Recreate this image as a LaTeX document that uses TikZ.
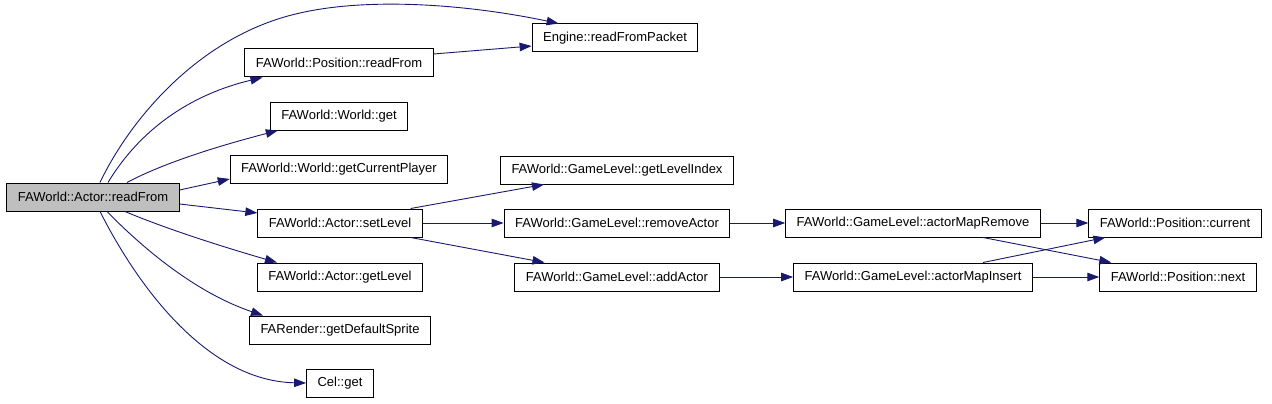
\documentclass[tikz,border=0pt]{standalone}
\usepackage{fontspec}
\setmainfont{Liberation Sans}
\usepackage{tikz}
\usetikzlibrary{arrows.meta}
\definecolor{EdgeBlue}{HTML}{191970}
\definecolor{RootGrey}{HTML}{BFBFBF}

\begin{document}
\begin{tikzpicture}[x=1pt, y=-1pt,
  fn/.style={rectangle, draw=black, line width=1pt, fill=white,
             minimum height=28pt, inner xsep=11pt, inner ysep=0pt,
             font=\fontsize{13}{15}\selectfont},
  call/.style={draw=EdgeBlue, line width=0.9pt,
               -{Triangle[length=12pt, width=8.5pt]}},
]
% one pixel of the graph is one point, y runs downwards
\useasboundingbox (0,0) rectangle (1272,404);

% the caller
\node[fn, fill=RootGrey] (rf) at (93,197) {FAWorld::Actor::readFrom};

% everything it reaches, column by column
\foreach \id/\x/\y/\fname in {
  eng/615/38/Engine::readFromPacket,
  posrf/339/63/FAWorld::Position::readFrom,
  wget/339/116/FAWorld::World::get,
  wcur/339/169/FAWorld::World::getCurrentPlayer,
  setlvl/340/223/FAWorld::Actor::setLevel,
  getlvl/340/277/FAWorld::Actor::getLevel,
  sprite/340/330/FARender::getDefaultSprite,
  cel/340/383/Cel::get,
  lvlidx/617/170/FAWorld::GameLevel::getLevelIndex,
  rmact/617/223/FAWorld::GameLevel::removeActor,
  addact/617/277/FAWorld::GameLevel::addActor,
  mrem/913/223/FAWorld::GameLevel::actorMapRemove,
  mins/913/277/FAWorld::GameLevel::actorMapInsert,
  cur/1175/223/FAWorld::Position::current,
  nxt/1178/277/FAWorld::Position::next
} {
  \node[fn] (\id) at (\x,\y) {\fname};
}

% fan out of readFrom
\coordinate (arc) at (300,13);
\draw[call] ([xshift=7pt]rf.north) .. controls +(30,-63) and +(-100,22) .. (arc)
  .. controls +(70,-16) and +(-90,-19) .. ([xshift=27pt]eng.north west);
\draw[call] ([xshift=15pt]rf.north) .. controls +(32,-53) and +(-72,17) .. ([xshift=18pt]posrf.south west);
\draw[call] ([xshift=34pt]rf.north) .. controls +(43,-23) and +(-42,11) .. ([xshift=8pt]wget.south west);
\draw[call] ([yshift=7pt]rf.east) -- ([yshift=-10pt]wcur.west);
\draw[call] ([yshift=-7pt]rf.east) -- ([yshift=10pt]setlvl.west);
\draw[call] ([xshift=32pt]rf.south) .. controls +(45,19) and +(-45,-13) .. ([xshift=20pt]getlvl.north west);
\draw[call] ([xshift=14pt]rf.south) .. controls +(43,44) and +(-62,-21) .. ([xshift=14pt]sprite.north west);
\draw[call] ([xshift=7pt]rf.south) .. controls +(40,79) and +(-97,-2) .. (cel.west);

% second level
\draw[call] ([yshift=9pt]posrf.east) -- ([yshift=-8pt]eng.west);
\draw[call] ([xshift=-12pt]setlvl.north east) -- ([xshift=44pt]lvlidx.south west);
\draw[call] ([xshift=-12pt]setlvl.south east) -- ([xshift=30pt]addact.north west);
\foreach \a/\b in {setlvl/rmact, rmact/mrem, addact/mins, mrem/cur, mins/nxt}
  \draw[call] (\a) -- (\b);

% the crossing pair
\draw[call] ([xshift=70pt]mrem.south) -- ([xshift=12pt]nxt.north west);
\draw[call] ([xshift=70pt]mins.north) -- ([xshift=17pt]cur.south west);
\end{tikzpicture}
\end{document}
